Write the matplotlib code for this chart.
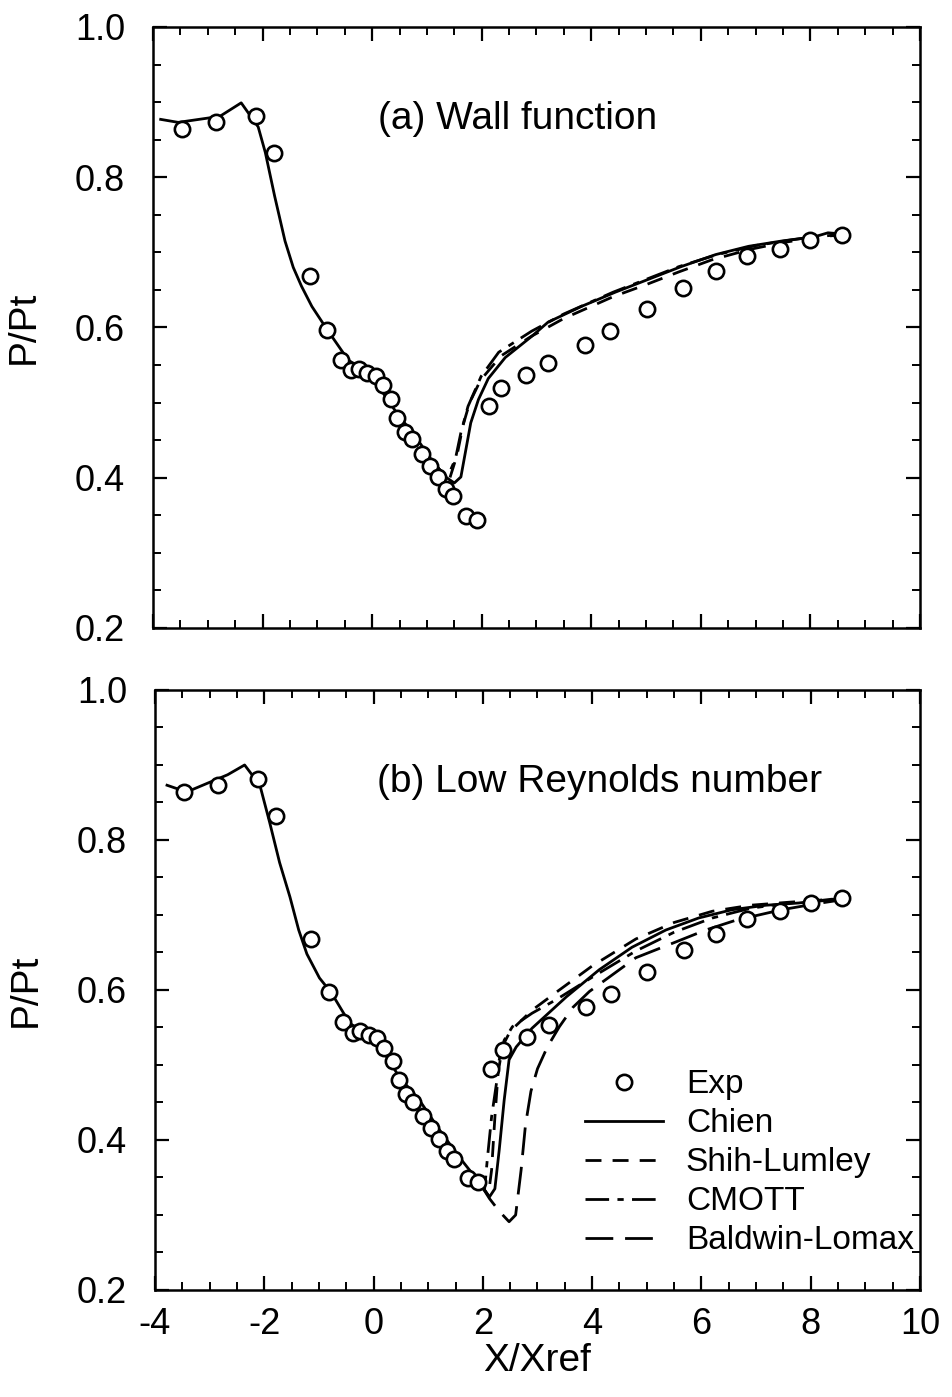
import numpy as np
import matplotlib
matplotlib.use("Agg")
import matplotlib.pyplot as plt
from matplotlib.ticker import MultipleLocator
from matplotlib.legend_handler import HandlerLine2D

plt.rcParams['font.family'] = ['Liberation Sans', 'DejaVu Sans']
plt.rcParams['lines.scale_dashes'] = False
plt.rcParams['axes.unicode_minus'] = False

# experiment (same in both panels)
x_exp = [-3.47, -2.85, -2.12, -1.79, -1.14, -0.82, -0.56, -0.38, -0.24, -0.09,
         0.07, 0.20, 0.35, 0.46, 0.60, 0.73, 0.91, 1.06, 1.20, 1.35, 1.48, 1.72,
         1.92, 2.14, 2.36, 2.80, 3.21, 3.89, 4.34, 5.01, 5.68, 6.27, 6.84, 7.44,
         8.00, 8.58]
y_exp = [0.864, 0.873, 0.881, 0.832, 0.668, 0.597, 0.557, 0.543, 0.545, 0.540,
         0.536, 0.523, 0.505, 0.480, 0.461, 0.451, 0.432, 0.416, 0.401, 0.385,
         0.375, 0.349, 0.344, 0.495, 0.520, 0.537, 0.553, 0.577, 0.595, 0.624,
         0.653, 0.675, 0.695, 0.705, 0.716, 0.723]

# (a) wall function - common upstream part of the computations
xa_up = [-3.86, -3.54, -2.78, -2.39, -2.08, -1.95, -1.78, -1.59, -1.44, -1.29,
         -1.10, -0.82, -0.44, -0.13, 0.16, 0.47, 0.79, 1.08, 1.34]
ya_up = [0.877, 0.873, 0.881, 0.899, 0.867, 0.833, 0.775, 0.715, 0.680, 0.655,
         0.628, 0.597, 0.557, 0.541, 0.517, 0.484, 0.455, 0.424, 0.401]
xa_chien = [1.50, 1.62, 1.71, 1.80, 1.94, 2.12, 2.43, 2.91, 3.21, 3.82, 4.44,
            5.04, 5.64, 6.27, 6.87, 7.47, 8.09, 8.32, 8.65]
ya_chien = [0.393, 0.401, 0.437, 0.473, 0.504, 0.532, 0.560, 0.588, 0.607,
            0.628, 0.647, 0.664, 0.681, 0.697, 0.708, 0.715, 0.721, 0.726, 0.724]
xa_shih = [1.42, 1.55, 1.66, 1.78, 1.98, 2.35, 2.90, 3.50, 4.40, 5.00, 5.60,
           6.20, 6.90, 7.50, 8.10, 8.65]
ya_shih = [0.400, 0.430, 0.470, 0.500, 0.530, 0.562, 0.588, 0.612, 0.641,
           0.657, 0.674, 0.690, 0.704, 0.713, 0.720, 0.724]
xa_cmott = [1.40, 1.52, 1.62, 1.75, 1.99, 2.31, 2.91, 3.50, 4.40, 5.00, 5.60,
            6.30, 7.00, 7.60, 8.10, 8.65]
ya_cmott = [0.405, 0.425, 0.460, 0.495, 0.535, 0.567, 0.595, 0.618, 0.647,
            0.664, 0.681, 0.697, 0.709, 0.716, 0.721, 0.724]

# (b) low Reynolds number
xb_up = [-3.78, -3.42, -2.67, -2.36, -2.08, -1.90, -1.72, -1.53, -1.37, -1.22,
         -0.99, -0.77, -0.44, -0.07, 0.24, 0.47, 0.84, 1.21, 1.57, 1.94]
yb_up = [0.873, 0.864, 0.887, 0.900, 0.873, 0.823, 0.770, 0.724, 0.680, 0.648,
         0.616, 0.596, 0.556, 0.537, 0.511, 0.484, 0.453, 0.413, 0.377, 0.343]
xb_chien = [2.12, 2.22, 2.30, 2.39, 2.48, 2.61, 2.90, 3.53, 4.13, 4.73, 5.35,
            5.95, 6.56, 7.18, 7.78, 8.38, 8.64]
yb_chien = [0.324, 0.335, 0.387, 0.453, 0.507, 0.524, 0.549, 0.591, 0.627,
            0.657, 0.680, 0.696, 0.707, 0.713, 0.716, 0.721, 0.721]
xb_shih = [2.10, 2.16, 2.22, 2.28, 2.36, 2.50, 2.90, 3.40, 4.00, 4.80, 5.50,
           6.20, 6.90, 7.60, 8.20, 8.64]
yb_shih = [0.326, 0.360, 0.430, 0.490, 0.525, 0.545, 0.573, 0.600, 0.632,
           0.668, 0.690, 0.705, 0.713, 0.717, 0.720, 0.721]
xb_cmott = [2.03, 2.08, 2.16, 2.25, 2.30, 2.39, 2.54, 2.90, 3.34, 4.00, 4.80,
            5.50, 6.20, 6.90, 7.60, 8.64]
yb_cmott = [0.333, 0.373, 0.431, 0.476, 0.507, 0.533, 0.551, 0.569, 0.587,
            0.617, 0.652, 0.677, 0.696, 0.709, 0.716, 0.721]
xb_bl = [2.12, 2.30, 2.48, 2.60, 2.70, 2.78, 2.88, 3.00, 3.18, 3.40, 3.65,
         3.95, 4.80, 5.53, 6.08, 6.63, 7.47, 8.10, 8.64]
yb_bl = [0.322, 0.305, 0.291, 0.300, 0.360, 0.420, 0.465, 0.495, 0.524, 0.551,
         0.577, 0.598, 0.643, 0.664, 0.680, 0.693, 0.707, 0.715, 0.721]

labels = ['Exp', 'Chien', 'Shih-Lumley', 'CMOTT', 'Baldwin-Lomax']

lw = 2.0
sty_shih = (0, (11.5, 8))
sty_cmott = (0, (17, 6, 4.5, 6))
sty_bl = (0, (20, 8.5))


class HandlerMarkerRight(HandlerLine2D):
    # put the single marker at the right end of the handle
    def get_xdata(self, legend, xdescent, ydescent, width, height, fontsize):
        xdata = np.array([-xdescent, -xdescent + width])
        return xdata, np.array([-xdescent + width])


def style_axes(ax):
    ax.set_xlim(-4, 10)
    ax.set_ylim(0.2, 1.0)
    ax.xaxis.set_major_locator(MultipleLocator(2))
    ax.xaxis.set_minor_locator(MultipleLocator(0.5))
    ax.yaxis.set_major_locator(MultipleLocator(0.2))
    ax.yaxis.set_minor_locator(MultipleLocator(0.05))
    ax.tick_params(which='both', direction='in', top=True, right=True)
    ax.tick_params(which='major', length=10, width=1.6, labelsize=26)
    ax.tick_params(which='minor', length=6, width=1.4)
    ax.tick_params(axis='y', pad=20)
    ax.tick_params(axis='x', pad=12)
    ax.yaxis.set_major_formatter(plt.FuncFormatter(lambda v, p: f"{v:.1f}"))
    for s in ax.spines.values():
        s.set_linewidth(1.8)
    ax.set_ylabel('P/Pt', fontsize=28)
    ax.yaxis.set_label_coords(-0.145, 0.5)


def exp_points(ax):
    return ax.plot(x_exp, y_exp, 'o', ms=11, mfc='white', mec='black', mew=1.9,
                   zorder=5)[0]


fig = plt.figure(figsize=(9.52, 13.97), dpi=100)
ax1 = fig.add_axes([0.1607, 0.5505, 0.8057, 0.4302])
ax2 = fig.add_axes([0.1628, 0.0766, 0.8036, 0.4295])

# top panel
ax1.plot(xa_up + xa_chien, ya_up + ya_chien, color='black', lw=lw)
ax1.plot(xa_up[-2:] + xa_shih, ya_up[-2:] + ya_shih, color='black', lw=lw,
         linestyle=sty_shih)
ax1.plot(xa_up[-2:] + xa_cmott, ya_up[-2:] + ya_cmott, color='black', lw=lw,
         linestyle=sty_cmott)
exp_points(ax1)
style_axes(ax1)
ax1.tick_params(axis='x', labelbottom=False)
ax1.text(0.293, 0.847, '(a) Wall function', transform=ax1.transAxes,
         fontsize=28, ha='left', va='center')

# bottom panel
h_exp = exp_points(ax2)
h_chien, = ax2.plot(xb_up + xb_chien, yb_up + yb_chien, color='black', lw=lw)
h_shih, = ax2.plot(xb_up[-1:] + xb_shih, yb_up[-1:] + yb_shih, color='black',
                   lw=lw, linestyle=sty_shih)
h_cmott, = ax2.plot(xb_up[-1:] + xb_cmott, yb_up[-1:] + yb_cmott,
                    color='black', lw=lw, linestyle=sty_cmott)
h_bl, = ax2.plot(xb_up[-1:] + xb_bl, yb_up[-1:] + yb_bl, color='black', lw=lw,
                 linestyle=sty_bl)
style_axes(ax2)
ax2.set_xlabel('X/Xref', fontsize=28)
ax2.xaxis.set_label_coords(0.5, -0.088)
ax2.text(0.29, 0.847, '(b) Low Reynolds number', transform=ax2.transAxes,
         fontsize=28, ha='left', va='center')

ax2.legend([h_exp, h_chien, h_shih, h_cmott, h_bl], labels,
           loc='upper left', bbox_to_anchor=(0.562, 0.368), frameon=False,
           fontsize=24, handlelength=2.35, handletextpad=0.68,
           labelspacing=0.24, borderpad=0, borderaxespad=0,
           handler_map={h_exp: HandlerMarkerRight(numpoints=1)})

fig.savefig('out.png', dpi=100)
